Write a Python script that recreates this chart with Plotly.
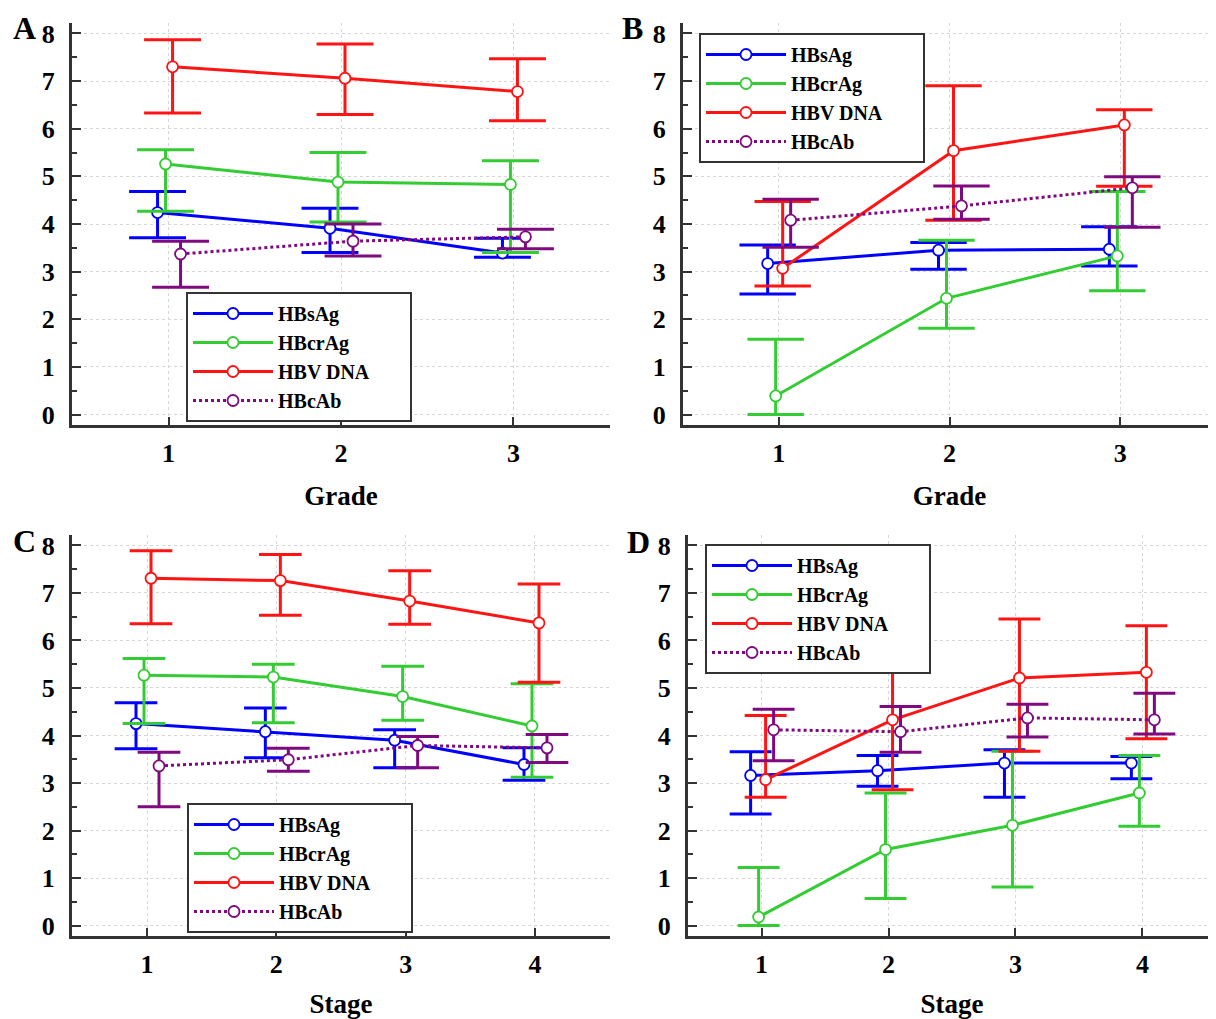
import plotly.graph_objects as go

# ---------------- data ----------------
GRADES = [1, 2, 3]
STAGES = [1, 2, 3, 4]
SERIES = ["HBsAg", "HBcrAg", "HBV DNA", "HBcAb"]

# Panel A (Grade)
A_HBsAg = [4.24, 3.91, 3.39]
A_HBsAg_lo = [3.71, 3.40, 3.30]
A_HBsAg_hi = [4.68, 4.33, 3.70]
A_HBcrAg = [5.26, 4.88, 4.83]
A_HBcrAg_lo = [4.27, 4.04, 3.40]
A_HBcrAg_hi = [5.56, 5.50, 5.33]
A_DNA = [7.30, 7.06, 6.78]
A_DNA_lo = [6.33, 6.30, 6.17]
A_DNA_hi = [7.87, 7.78, 7.47]
A_HBcAb = [3.37, 3.64, 3.73]
A_HBcAb_lo = [2.67, 3.33, 3.48]
A_HBcAb_hi = [3.64, 4.00, 3.89]

# Panel B (Grade)
B_HBsAg = [3.17, 3.45, 3.47]
B_HBsAg_lo = [2.53, 3.05, 3.12]
B_HBsAg_hi = [3.56, 3.61, 3.94]
B_HBcrAg = [0.39, 2.44, 3.33]
B_HBcrAg_lo = [0.00, 1.81, 2.60]
B_HBcrAg_hi = [1.58, 3.66, 4.68]
B_DNA = [3.07, 5.54, 6.08]
B_DNA_lo = [2.70, 4.08, 4.79]
B_DNA_hi = [4.47, 6.90, 6.40]
B_HBcAb = [4.08, 4.38, 4.76]
B_HBcAb_lo = [3.51, 4.10, 3.93]
B_HBcAb_hi = [4.52, 4.80, 4.99]

# Panel C (Stage)
C_HBsAg = [4.25, 4.08, 3.90, 3.39]
C_HBsAg_lo = [3.72, 3.53, 3.32, 3.06]
C_HBsAg_hi = [4.69, 4.58, 4.12, 3.74]
C_HBcrAg = [5.27, 5.23, 4.82, 4.20]
C_HBcrAg_lo = [4.25, 4.27, 4.32, 3.12]
C_HBcrAg_hi = [5.62, 5.50, 5.46, 5.09]
C_DNA = [7.31, 7.26, 6.83, 6.37]
C_DNA_lo = [6.35, 6.53, 6.34, 5.12]
C_DNA_hi = [7.89, 7.81, 7.47, 7.19]
C_HBcAb = [3.36, 3.49, 3.79, 3.74]
C_HBcAb_lo = [2.50, 3.25, 3.32, 3.43]
C_HBcAb_hi = [3.65, 3.73, 3.98, 4.02]

# Panel D (Stage)
D_HBsAg = [3.16, 3.26, 3.42, 3.42]
D_HBsAg_lo = [2.35, 2.93, 2.70, 3.09]
D_HBsAg_hi = [3.66, 3.58, 3.70, 3.56]
D_HBcrAg = [0.18, 1.60, 2.11, 2.79]
D_HBcrAg_lo = [0.00, 0.57, 0.81, 2.09]
D_HBcrAg_hi = [1.22, 2.79, 3.67, 3.58]
D_DNA = [3.07, 4.33, 5.21, 5.33]
D_DNA_lo = [2.70, 2.86, 3.67, 3.93]
D_DNA_hi = [4.42, 6.17, 6.45, 6.31]
D_HBcAb = [4.12, 4.08, 4.37, 4.33]
D_HBcAb_lo = [3.47, 3.65, 3.97, 4.03]
D_HBcAb_hi = [4.55, 4.61, 4.66, 4.89]

Y_TICKS = [0, 1, 2, 3, 4, 5, 6, 7, 8]

# ---------------- style ----------------
PAGE_OFF = 8                      # default page margin of the html body
W, H = 1216 - PAGE_OFF, 1019 - PAGE_OFF
COLORS = {"HBsAg": "#0000ff", "HBcrAg": "#33cc33", "HBV DNA": "#ff1414", "HBcAb": "#7f0a7f"}
DASH = {"HBsAg": "solid", "HBcrAg": "solid", "HBV DNA": "solid", "HBcAb": "dot"}
OFFSET_PX = {"HBsAg": -11, "HBcrAg": -3, "HBV DNA": 4, "HBcAb": 12}
SERIF = "Liberation Serif"
AXCOL = "#333333"
GRID = "#d6d6d6"
LEG_PAD = "\u00a0" * 7


def fx(px):
    return (px - PAGE_OFF) / W


def fy(py):
    return 1 - (py - PAGE_OFF) / H


panels = [
    dict(key="A", cats=GRADES, title="Grade", xr=[0.44, 3.56],
         px=[72, 610], py=[23, 425], legpos=(186, 292),
         data=[(A_HBsAg, A_HBsAg_lo, A_HBsAg_hi), (A_HBcrAg, A_HBcrAg_lo, A_HBcrAg_hi),
               (A_DNA, A_DNA_lo, A_DNA_hi), (A_HBcAb, A_HBcAb_lo, A_HBcAb_hi)],
         letter=(24, 28)),
    dict(key="B", cats=GRADES, title="Grade", xr=[0.44, 3.56],
         px=[683, 1216], py=[23, 425], legpos=(699, 33),
         data=[(B_HBsAg, B_HBsAg_lo, B_HBsAg_hi), (B_HBcrAg, B_HBcrAg_lo, B_HBcrAg_hi),
               (B_DNA, B_DNA_lo, B_DNA_hi), (B_HBcAb, B_HBcAb_lo, B_HBcAb_hi)],
         letter=(632, 28)),
    dict(key="C", cats=STAGES, title="Stage", xr=[0.42, 4.58],
         px=[72, 610], py=[535, 936], legpos=(187, 803),
         data=[(C_HBsAg, C_HBsAg_lo, C_HBsAg_hi), (C_HBcrAg, C_HBcrAg_lo, C_HBcrAg_hi),
               (C_DNA, C_DNA_lo, C_DNA_hi), (C_HBcAb, C_HBcAb_lo, C_HBcAb_hi)],
         letter=(24, 541)),
    dict(key="D", cats=STAGES, title="Stage", xr=[0.42, 4.58],
         px=[688, 1216], py=[535, 936], legpos=(705, 544),
         data=[(D_HBsAg, D_HBsAg_lo, D_HBsAg_hi), (D_HBcrAg, D_HBcrAg_lo, D_HBcrAg_hi),
               (D_DNA, D_DNA_lo, D_DNA_hi), (D_HBcAb, D_HBcAb_lo, D_HBcAb_hi)],
         letter=(638, 542)),
]

fig = go.Figure()
layout = dict(
    width=W, height=H, margin=dict(l=0, r=0, t=0, b=0, autoexpand=False),
    paper_bgcolor="white", plot_bgcolor="white", annotations=[],
)

for i, p in enumerate(panels):
    n = i + 1
    xa = "x" if n == 1 else f"x{n}"
    ya = "y" if n == 1 else f"y{n}"
    leg = "legend" if n == 1 else f"legend{n}"
    span_px = p["px"][1] - p["px"][0]
    px_per_unit = span_px / (p["xr"][1] - p["xr"][0])
    cap = 0.165 * px_per_unit
    for name, (mean, lo, hi) in zip(SERIES, p["data"]):
        xs = [c + OFFSET_PX[name] / px_per_unit for c in p["cats"]]
        fig.add_trace(go.Scatter(
            x=xs, y=mean, name=name + LEG_PAD, mode="lines+markers",
            xaxis=xa, yaxis=ya, legend=leg,
            line=dict(color=COLORS[name], width=3, dash=DASH[name]),
            marker=dict(symbol="circle", size=11, color="white",
                        line=dict(color=COLORS[name], width=1.8)),
            error_y=dict(type="data", symmetric=False,
                         array=[h - m for h, m in zip(hi, mean)],
                         arrayminus=[m - l for m, l in zip(mean, lo)],
                         color=COLORS[name], thickness=3, width=cap),
        ))
    xdom = [fx(p["px"][0]), min(1.0, fx(p["px"][1]))]
    ydom = [fy(p["py"][1]), fy(p["py"][0])]
    layout["xaxis" if n == 1 else f"xaxis{n}"] = dict(
        domain=xdom, anchor=ya, range=p["xr"], tickvals=p["cats"], automargin=False,
        showgrid=True, gridcolor=GRID, griddash="dot", gridwidth=1,
        showline=True, linecolor=AXCOL, linewidth=3, zeroline=False,
        ticks="inside", ticklen=8, tickwidth=2, tickcolor=AXCOL,
        ticklabelstandoff=3,
        tickfont=dict(family=SERIF, size=26, color="black", weight="bold"),
        title=dict(text=p["title"], standoff=19,
                   font=dict(family=SERIF, size=27, color="black", weight="bold")),
    )
    layout["yaxis" if n == 1 else f"yaxis{n}"] = dict(
        domain=ydom, anchor=xa, range=[-0.22, 8.22], tickvals=Y_TICKS, automargin=False,
        showgrid=True, gridcolor=GRID, griddash="dot", gridwidth=1,
        showline=True, linecolor=AXCOL, linewidth=3, zeroline=False,
        ticks="inside", ticklen=9, tickwidth=2, tickcolor=AXCOL,
        ticklabelstandoff=9,
        minor=dict(dtick=0.5, ticks="inside", ticklen=5, tickwidth=2, tickcolor=AXCOL, showgrid=False),
        tickfont=dict(family=SERIF, size=26, color="black", weight="bold"),
    )
    layout[leg] = dict(
        x=fx(p["legpos"][0]), y=fy(p["legpos"][1]), xanchor="left", yanchor="top",
        bgcolor="white", bordercolor=AXCOL, borderwidth=2,
        font=dict(family=SERIF, size=20, color="black", weight="bold"),
        itemwidth=80, tracegroupgap=0,
    )
    layout["annotations"].append(dict(
        text=p["key"], x=fx(p["letter"][0]), y=fy(p["letter"][1]),
        xref="paper", yref="paper", showarrow=False, xanchor="center", yanchor="middle",
        font=dict(family=SERIF, size=32, color="black", weight="bold"),
    ))

fig.update_layout(**layout)
fig.write_html("out.html")
